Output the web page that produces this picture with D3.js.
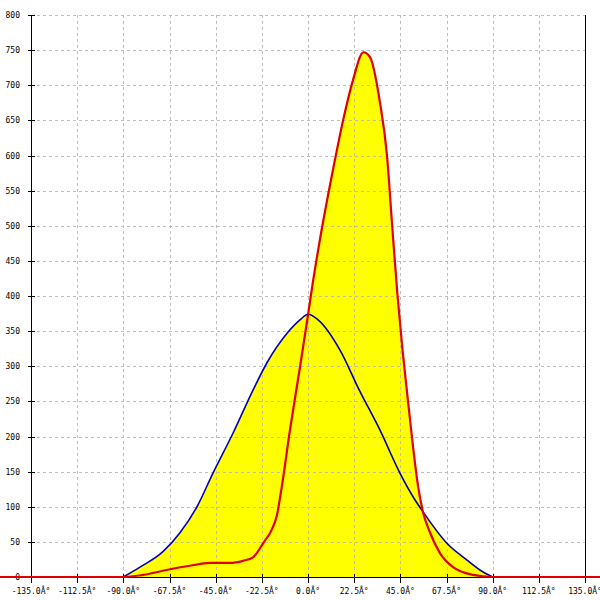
<!DOCTYPE html>
<html>
<head>
<meta charset="utf-8">
<script src="https://cdn.jsdelivr.net/npm/d3@7/dist/d3.min.js"></script>
<style>
html,body{margin:0;padding:0;background:#fff;}
svg{display:block;}
</style>
</head>
<body>
<svg id="chart" width="600" height="600"></svg>
<script>
// ---- data ----
const xTicks = [-135, -112.5, -90, -67.5, -45, -22.5, 0, 22.5, 45, 67.5, 90, 112.5, 135];
const xTickLabels = ["-135.0Â°","-112.5Â°","-90.0Â°","-67.5Â°","-45.0Â°","-22.5Â°","0.0Â°","22.5Â°","45.0Â°","67.5Â°","90.0Â°","112.5Â°","135.0Â°"];
const yTicks = [0,50,100,150,200,250,300,350,400,450,500,550,600,650,700,750,800];

const blueX = [-90,-81.9,-70.7,-62.4,-54.1,-46.3,-36.5,-26.8,-20,-10.2,-3.9,0,4.9,15.6,25,35.1,44.8,52.1,56,67.7,77.5,83.8,90];
const blueY = [0,14,36,63,100,148,205,266,305,347,366,374,366,323,266,209,148,110,93,48,24,10,0];

const redX = [-160,-90,-80.4,-67.3,-57.5,-47.8,-38,-31.7,-26.8,-21.9,-17.1,-15.3,-12.8,-8.8,-3.9,0,2.4,5.8,12.2,17.1,21.9,27,30.2,35.1,38.5,40.9,43.5,46,48.2,51.2,53.6,56,59.5,64.3,70.7,80.4,90,160];
const redY = [0,0,3,11,16,20,20,23,28,48,71,86,128,209,299,373,420,480,580,650,707,747,740,675,600,505,405,325,265,185,130,93,63,34,14,3,0,0];

// ---- chart ----
const svg = d3.select("#chart");
const x = d3.scaleLinear().domain([-135,135]).range([31,585]);
const y = d3.scaleLinear().domain([0,800]).range([577,15]);
const font = "DejaVu Sans Mono, monospace";

const blue = blueX.map((v,i)=>[v,blueY[i]]);
const red = redX.map((v,i)=>[v,redY[i]]);

const area = d3.area().x(d=>x(d[0])).y0(y(0)).y1(d=>y(d[1])).curve(d3.curveMonotoneX);
const line = d3.line().x(d=>x(d[0])).y(d=>y(d[1])).curve(d3.curveMonotoneX);

svg.append("path").attr("d", area(blue)).attr("fill","#ffff00");
svg.append("path").attr("d", area(red)).attr("fill","#ffff00");

// grid
const grid = svg.append("g").attr("stroke","#bdbdbd").attr("stroke-width",1).attr("stroke-dasharray","3,3");
xTicks.forEach(t=>{
  if (t===-135 || t===135) return;
  grid.append("line").attr("x1",Math.round(x(t))+0.5).attr("x2",Math.round(x(t))+0.5).attr("y1",15).attr("y2",577);
});
yTicks.forEach(t=>{
  if (t===0) return;
  grid.append("line").attr("x1",31).attr("x2",585).attr("y1",Math.round(y(t))+0.5).attr("y2",Math.round(y(t))+0.5);
});

// axes
const ax = svg.append("g").attr("stroke","#000").attr("stroke-width",1);
ax.append("line").attr("x1",31.5).attr("x2",31.5).attr("y1",15).attr("y2",583);
ax.append("line").attr("x1",585.5).attr("x2",585.5).attr("y1",15).attr("y2",583);
ax.append("line").attr("x1",31).attr("x2",585).attr("y1",577.5).attr("y2",577.5);
yTicks.forEach(t=>{
  ax.append("line").attr("x1",28).attr("x2",35).attr("y1",Math.round(y(t))+0.5).attr("y2",Math.round(y(t))+0.5);
});
xTicks.forEach(t=>{
  ax.append("line").attr("x1",Math.round(x(t))+0.5).attr("x2",Math.round(x(t))+0.5).attr("y1",574).attr("y2",583);
});

// labels
const lab = svg.append("g").attr("font-family",font).attr("font-size",8).attr("fill","#000");
yTicks.forEach(t=>{
  lab.append("text").attr("x",20).attr("y",y(t)+3).attr("text-anchor","end").text(String(t));
});
xTicks.forEach((t,i)=>{
  lab.append("text").attr("x",x(t)).attr("y",594).attr("text-anchor","middle").text(xTickLabels[i]);
});

// lines
svg.append("path").attr("d", line(blue)).attr("fill","none").attr("stroke","#0000b4").attr("stroke-width",1.6);
svg.append("path").attr("d", line(red)).attr("fill","none").attr("stroke","#e00000").attr("stroke-width",2.2);
</script>
</body>
</html>
